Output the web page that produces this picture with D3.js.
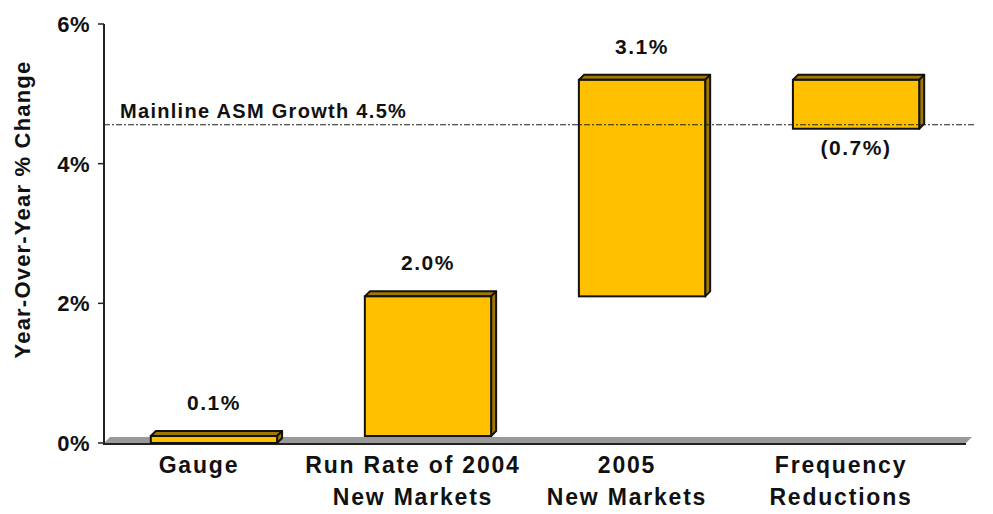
<!DOCTYPE html>
<html>
<head>
<meta charset="utf-8">
<script src="https://cdn.jsdelivr.net/npm/d3@7"></script>
<style>
  html, body { margin: 0; padding: 0; background: #fff; }
  svg { display: block; font-family: "Liberation Sans", Arial, sans-serif; font-weight: bold; }
</style>
</head>
<body>
<svg id="chart" width="993" height="514"></svg>
<script>
// Waterfall of year-over-year capacity change
const categories = [["Gauge"], ["Run Rate of 2004", "New Markets"], ["2005", "New Markets"], ["Frequency", "Reductions"]];
const changes = [0.1, 2.0, 3.1, -0.7];
const valueLabels = ["0.1%", "2.0%", "3.1%", "(0.7%)"];
const yTicks = [0, 2, 4, 6];
const yTickLabels = ["0%", "2%", "4%", "6%"];
const asmGrowth = 4.5;
const asmLabel = "Mainline ASM Growth 4.5%";
const yTitle = "Year-Over-Year % Change";

// Running totals for each step
let run = 0;
const steps = changes.map((v, i) => {
  const start = run;
  run += v;
  return { i, v, start, end: run, lo: Math.min(start, run), hi: Math.max(start, run) };
});

const svg = d3.select("#chart");
const axisX = 104;
const x = d3.scaleBand().domain(d3.range(categories.length)).range([108, 962]).paddingInner(0.41).paddingOuter(0.2);
const y = d3.scaleLinear().domain([0, 6]).range([443, 24]);
const depth = 5;
const labelShift = -15;

const face = "#FFC000", side = "#9E7800";

// floor
const fy = y(0);
svg.append("path")
  .attr("d", `M${axisX},${fy} L${axisX + 6},${fy - 6} L${972},${fy - 6} L${966},${fy} Z`)
  .attr("fill", "#999");
svg.append("line").attr("x1", axisX).attr("x2", 966).attr("y1", fy + 1).attr("y2", fy + 1)
  .attr("stroke", "#222").attr("stroke-width", 2);

// y axis
svg.append("line").attr("x1", axisX).attr("x2", axisX).attr("y1", y(6)).attr("y2", fy + 2)
  .attr("stroke", "#222").attr("stroke-width", 2);
const ticks = svg.append("g");
yTicks.forEach((t, k) => {
  ticks.append("line").attr("x1", axisX - 6).attr("x2", axisX).attr("y1", y(t)).attr("y2", y(t))
    .attr("stroke", "#222").attr("stroke-width", 1.5);
  ticks.append("text").attr("x", axisX - 14).attr("y", y(t)).attr("dy", "0.36em")
    .attr("text-anchor", "end").attr("font-size", 22).attr("letter-spacing", 0.5)
    .attr("fill", "#111").text(yTickLabels[k]);
});

svg.append("text")
  .attr("transform", `translate(30,${(y(6) + fy) / 2 - 24}) rotate(-90)`)
  .attr("text-anchor", "middle").attr("font-size", 22).attr("letter-spacing", 1.2)
  .attr("fill", "#111").text(yTitle);

// bars with depth
const bars = svg.append("g");
steps.forEach(s => {
  const x0 = x(s.i), x1 = x0 + x.bandwidth();
  const top = y(s.hi), bot = y(s.lo);
  bars.append("path")
    .attr("d", `M${x0},${top} L${x0 + depth},${top - depth} L${x1 + depth},${top - depth} L${x1},${top} Z`)
    .attr("fill", side).attr("stroke", "#111").attr("stroke-width", 2).attr("stroke-linejoin", "round");
  bars.append("path")
    .attr("d", `M${x1},${top} L${x1 + depth},${top - depth} L${x1 + depth},${bot - depth} L${x1},${bot} Z`)
    .attr("fill", side).attr("stroke", "#111").attr("stroke-width", 2).attr("stroke-linejoin", "round");
  bars.append("rect").attr("x", x0).attr("y", top).attr("width", x.bandwidth()).attr("height", bot - top)
    .attr("fill", face).attr("stroke", "#111").attr("stroke-width", 2);
});

// reference line
svg.append("line").attr("x1", axisX).attr("x2", 976).attr("y1", y(asmGrowth) - 4).attr("y2", y(asmGrowth) - 4)
  .attr("stroke", "#222").attr("stroke-width", 1.2).attr("stroke-dasharray", "6,2,2,2");
svg.append("text").attr("x", 120).attr("y", y(asmGrowth) - 11)
  .attr("font-size", 20).attr("letter-spacing", 1.3).attr("fill", "#111").text(asmLabel);

// value labels
steps.forEach(s => {
  const cx = x(s.i) + x.bandwidth() / 2;
  const ty = s.v >= 0 ? y(s.hi) - 26 : y(s.lo) + 26;
  svg.append("text").attr("x", cx).attr("y", ty).attr("text-anchor", "middle")
    .attr("font-size", 21).attr("letter-spacing", 1.5).attr("fill", "#111").text(valueLabels[s.i]);
});

// category labels
categories.forEach((lines, i) => {
  const t = svg.append("text").attr("text-anchor", "middle").attr("font-size", 23)
    .attr("letter-spacing", 1.8).attr("fill", "#111");
  lines.forEach((ln, j) => {
    t.append("tspan").attr("x", x(i) + x.bandwidth() / 2 + labelShift).attr("y", 473 + j * 32).text(ln);
  });
});
</script>
</body>
</html>
